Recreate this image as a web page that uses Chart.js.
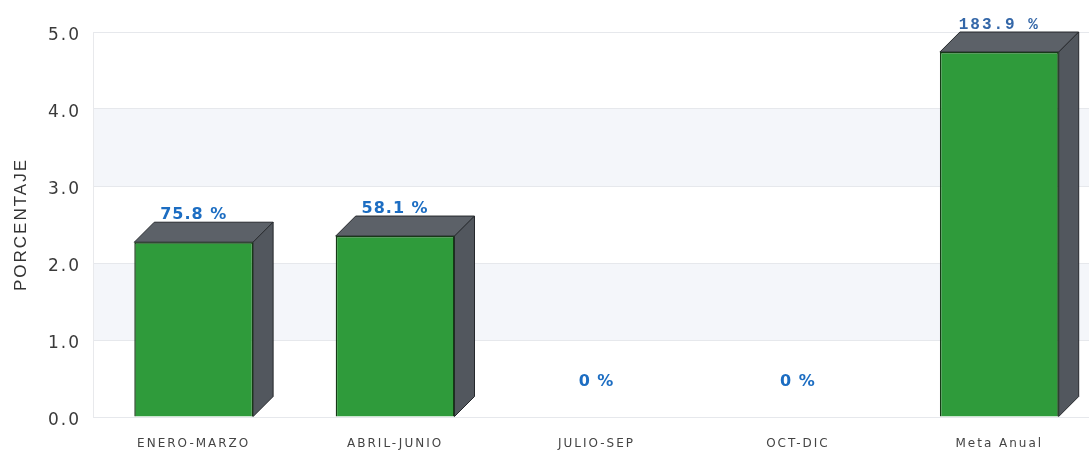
<!DOCTYPE html>
<html>
<head>
<meta charset="utf-8">
<script src="https://cdn.jsdelivr.net/npm/chart.js@4.4.1/dist/chart.umd.min.js"></script>
<style>
  html, body { margin: 0; padding: 0; background: #fff; overflow: hidden; }
  #wrap { width: 1100px; height: 453px; }
</style>
</head>
<body>
<div id="wrap"><canvas id="chart"></canvas></div>
<script>
// data
const periods     = ["ENERO-MARZO", "ABRIL-JUNIO", "JULIO-SEP", "OCT-DIC", "Meta Anual"];
const values      = [2.27, 2.35, 0, 0, 4.74];
const valueLabels = ["75.8 %", "58.1 %", "0 %", "0 %", "183.9 %"];
const yTicks      = [0, 1, 2, 3, 4, 5];

const DX = 20, DY = 20;   // depth of the fake 3d box

// light bands between 3-4 and 1-2
const bands = {
  id: "bands",
  beforeDraw(chart) {
    const { ctx, chartArea: a, scales: { y } } = chart;
    ctx.save();
    ctx.fillStyle = "#f4f6fa";
    [[3, 4], [1, 2]].forEach(([lo, hi]) => {
      const t = y.getPixelForValue(hi), b = y.getPixelForValue(lo);
      ctx.fillRect(a.left, t, a.right - a.left, b - t);
    });
    ctx.restore();
    ctx.letterSpacing = "2px";
  }
};

// side and top faces, drawn behind the green front
const box3d = {
  id: "box3d",
  beforeDatasetsDraw(chart) {
    const { ctx } = chart;
    chart.getDatasetMeta(0).data.forEach((bar, i) => {
      if (!values[i]) return;
      const l = bar.x - bar.width / 2, r = bar.x + bar.width / 2;
      const t = bar.y, b = bar.base;
      ctx.save();
      ctx.strokeStyle = "#25282c";
      ctx.lineWidth = 1;
      // top
      ctx.beginPath();
      ctx.moveTo(l, t); ctx.lineTo(l + DX, t - DY); ctx.lineTo(r + DX, t - DY); ctx.lineTo(r, t);
      ctx.closePath();
      ctx.fillStyle = "#5c6168"; ctx.fill(); ctx.stroke();
      // side
      ctx.beginPath();
      ctx.moveTo(r, t); ctx.lineTo(r + DX, t - DY); ctx.lineTo(r + DX, b - DY); ctx.lineTo(r, b);
      ctx.closePath();
      ctx.fillStyle = "#52575e"; ctx.fill(); ctx.stroke();
      ctx.restore();
    });
  },
  afterDatasetsDraw(chart) {
    const { ctx } = chart;
    chart.getDatasetMeta(0).data.forEach((bar, i) => {
      const last = i === values.length - 1;
      ctx.save();
      ctx.letterSpacing = last ? "2px" : "1px";
      ctx.textAlign = "center";
      ctx.textBaseline = "alphabetic";
      ctx.font = last ? 'bold 16px "Liberation Mono"' : 'bold 16px "DejaVu Sans"';
      ctx.fillStyle = last ? "#3467a8" : "#1c6dc2";
      const off = values[i] ? 23 : 31;
      ctx.fillText(valueLabels[i], bar.x, bar.y - off);
      ctx.restore();
    });
  }
};

new Chart(document.getElementById("chart"), {
  type: "bar",
  data: {
    labels: periods,
    datasets: [{
      data: values,
      backgroundColor: "#2f9b3b",
      borderColor: "#163a16",
      borderWidth: 1.5,
      barPercentage: 0.59,
      categoryPercentage: 1
    }]
  },
  options: {
    responsive: true,
    maintainAspectRatio: false,
    animation: false,
    layout: { padding: { top: 32, left: 0, right: 0, bottom: 0 } },
    plugins: { legend: { display: false }, tooltip: { enabled: false } },
    scales: {
      x: {
        grid: { display: false },
        border: { display: false },
        ticks: { color: "#444", font: { family: "DejaVu Sans", size: 12 }, padding: 12 },
        afterFit: s => { s.height = 36; }
      },
      y: {
        min: 0, max: 5,
        afterBuildTicks: s => { s.ticks = yTicks.map(v => ({ value: v })); },
        grid: { color: "#e6e8ec", drawTicks: false },
        border: { color: "#e8e9ec" },
        ticks: {
          color: "#3a3a3a",
          font: { family: "DejaVu Sans", size: 17 },
          padding: 12,
          labelOffset: 4,
          callback: v => Number(v).toFixed(1)
        },
        title: {
          display: true,
          text: "PORCENTAJE",
          color: "#333",
          font: { family: "Liberation Sans", size: 17 },
          padding: { top: 11, bottom: 0 }
        },
        afterFit: s => { s.width = 93; }
      }
    }
  },
  plugins: [bands, box3d]
});
</script>
</body>
</html>
